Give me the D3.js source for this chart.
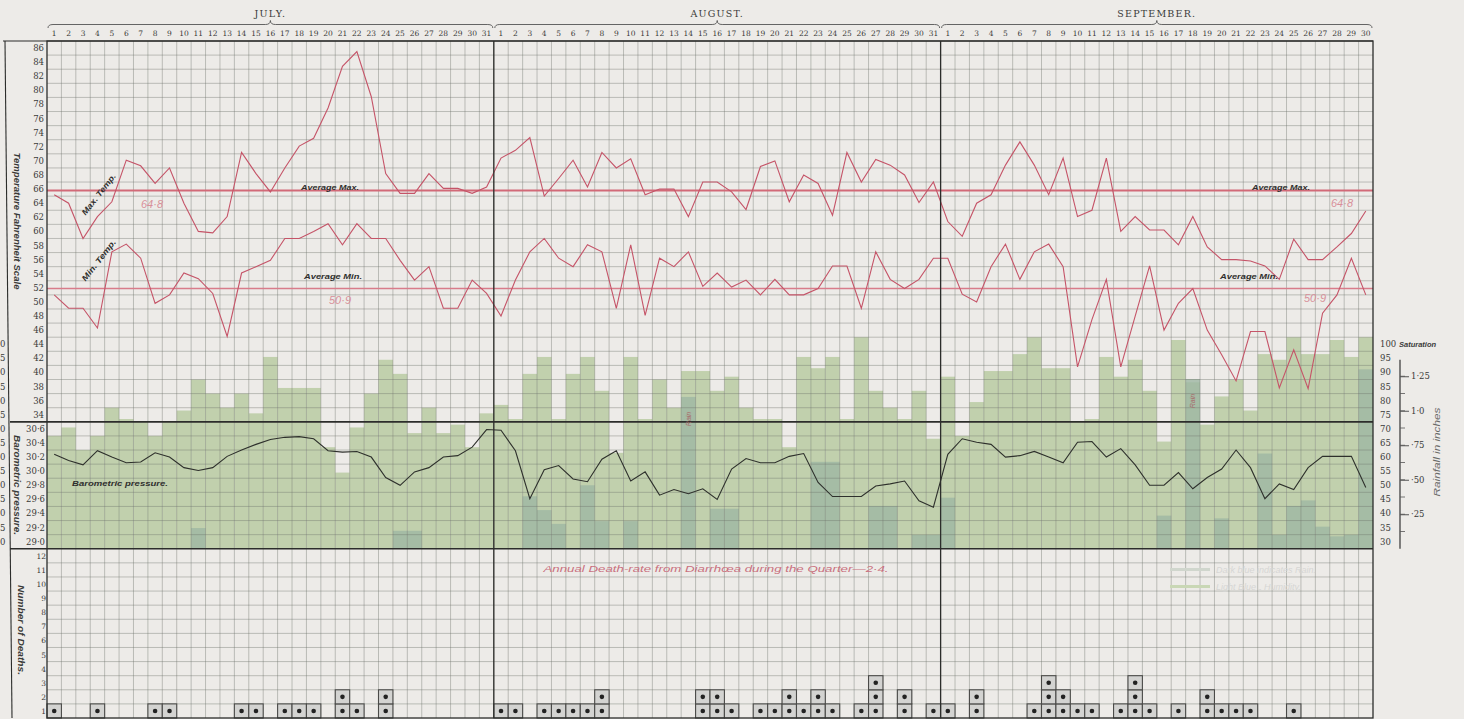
<!DOCTYPE html>
<html>
<head>
<meta charset="utf-8">
<script src="https://cdn.jsdelivr.net/npm/d3@7"></script>
<style>
  body { margin: 0; background: #eceae7; }
  svg { display: block; }
</style>
</head>
<body>
<div class="weatherChart"></div>
<script>
// Months and day columns
const monthNames = ["JULY.", "AUGUST.", "SEPTEMBER."];
const monthLengths = [31, 31, 30];

// Daily readings, 1 July - 30 September (92 days)
const maxTemp = [
  64.2, 63.0, 58.0, 61.1, 63.2, 69.1, 68.3, 65.8, 68.0, 63.0, 59.0, 58.8, 61.1, 70.2, 67.2, 64.6, 68.0, 71.1, 72.2, 76.5, 82.4, 84.5, 78.1, 67.2, 64.4, 64.4, 67.2, 65.1, 65.1, 64.4, 65.3,
  69.4, 70.5, 72.3, 64.0, 66.5, 69.1, 65.3, 70.2, 68.0, 69.3, 64.2, 65.0, 65.0, 61.1, 66.0, 66.0, 64.6, 62.1, 68.2, 69.0, 63.2, 67.0, 65.8, 61.3, 70.2, 66.0, 69.2, 68.4, 67.0, 63.1, 66.0,
  60.4, 58.3, 63.0, 64.2, 68.4, 71.7, 68.4, 64.2, 69.4, 61.1, 62.0, 69.4, 59.0, 61.1, 59.2, 59.2, 57.1, 61.1, 56.8, 55.0, 55.0, 54.8, 54.1, 52.2, 57.9, 55.0, 55.0, 56.8, 58.7, 61.9
];
const minTemp = [
  50.0, 48.1, 48.1, 45.3, 56.1, 57.2, 55.2, 48.8, 50.0, 53.1, 52.3, 50.2, 44.1, 53.1, 54.0, 54.9, 58.0, 58.0, 59.0, 60.1, 57.1, 60.1, 58.0, 58.0, 54.9, 52.1, 54.0, 48.1, 48.1, 52.1, 50.2,
  47.0, 52.1, 56.1, 58.0, 55.2, 54.0, 57.1, 56.1, 48.1, 57.1, 47.1, 55.2, 54.0, 56.1, 51.2, 53.1, 51.1, 52.1, 50.0, 52.2, 50.0, 50.0, 50.9, 54.1, 54.1, 48.1, 56.1, 52.2, 50.9, 52.2, 55.2,
  55.2, 50.1, 49.0, 54.0, 57.2, 52.2, 56.1, 57.2, 54.0, 39.8, 46.5, 52.2, 39.8, 47.0, 54.1, 45.0, 48.8, 50.9, 45.0, 41.5, 37.8, 44.8, 44.8, 36.8, 42.2, 36.7, 47.4, 50.0, 55.2, 50.0
];
const pressure = [
  30.14, 30.05, 29.99, 30.19, 30.10, 30.02, 30.03, 30.16, 30.10, 29.95, 29.91, 29.95, 30.11, 30.20, 30.28, 30.35, 30.38, 30.39, 30.36, 30.19, 30.17, 30.18, 30.10, 29.81, 29.70, 29.89, 29.95, 30.10, 30.12, 30.24, 30.49,
  30.48, 30.19, 29.51, 29.92, 29.98, 29.79, 29.75, 30.07, 30.19, 29.76, 29.89, 29.56, 29.64, 29.58, 29.65, 29.50, 29.93, 30.08, 30.02, 30.02, 30.11, 30.15, 29.74, 29.54, 29.54, 29.54, 29.69, 29.72, 29.76, 29.48, 29.39,
  30.14, 30.36, 30.31, 30.28, 30.10, 30.12, 30.18, 30.10, 30.02, 30.31, 30.32, 30.10, 30.22, 29.99, 29.70, 29.70, 29.88, 29.65, 29.81, 29.93, 30.20, 29.95, 29.51, 29.72, 29.64, 29.95, 30.11, 30.11, 30.11, 29.67
];
const saturation = [
  65, 68, 60, 65, 75, 71, 70, 65, 70, 74, 85, 80, 75, 80, 73, 93, 82, 82, 82, 61, 52, 68, 80, 92, 87, 66, 75, 66, 69, 61, 73,
  76, 71, 87, 93, 71, 87, 93, 81, 59, 93, 71, 85, 75, 88, 88, 81, 86, 75, 71, 71, 61, 93, 89, 93, 71, 100, 81, 75, 71, 81, 64,
  86, 65, 77, 88, 88, 94, 100, 89, 89, 70, 71, 93, 86, 92, 81, 63, 99, 84, 69, 79, 85, 74, 94, 92, 100, 94, 94, 99, 93, 100
];
const rainfall = [
  0, 0, 0, 0, 0, 0, 0, 0, 0, 0, 0.15, 0, 0, 0, 0, 0, 0, 0, 0, 0, 0, 0, 0, 0, 0.13, 0.13, 0, 0, 0, 0, 0,
  0, 0, 0.38, 0.28, 0.18, 0, 0.46, 0.2, 0, 0.2, 0, 0, 0, 1.1, 0, 0.29, 0.29, 0, 0, 0, 0, 0, 0.63, 0.63, 0, 0, 0.31, 0.31, 0, 0.1, 0.1,
  0.37, 0, 0, 0, 0, 0, 0, 0, 0, 0, 0, 0, 0, 0, 0, 0.24, 0, 1.23, 0, 0.22, 0, 0, 0.69, 0.1, 0.31, 0.35, 0.16, 0.09, 0.1, 1.3
];
const deaths = [
  1, 0, 0, 1, 0, 0, 0, 1, 1, 0, 0, 0, 0, 1, 1, 0, 1, 1, 1, 0, 2, 1, 0, 2, 0, 0, 0, 0, 0, 0, 0,
  1, 1, 0, 1, 1, 1, 1, 2, 0, 0, 0, 0, 0, 0, 2, 2, 1, 0, 1, 1, 2, 1, 2, 1, 0, 1, 3, 0, 2, 0, 1,
  1, 0, 2, 0, 0, 0, 1, 3, 2, 1, 1, 0, 1, 3, 1, 0, 1, 0, 2, 1, 1, 1, 0, 0, 1, 0, 0, 0, 0, 0
];

// Averages for the quarter
const avgMax = 64.8;
const avgMin = 50.9;
const rainNoteDays = [44, 79];

// Tick labels
const tempTicks = [86, 84, 82, 80, 78, 76, 74, 72, 70, 68, 66, 64, 62, 60, 58, 56, 54, 52, 50, 48, 46, 44, 42, 40, 38, 36, 34];
const baroTicks = [30.6, 30.4, 30.2, 30.0, 29.8, 29.6, 29.4, 29.2, 29.0];
const baroTickLabels = ["30·6", "30·4", "30·2", "30·0", "29·8", "29·6", "29·4", "29·2", "29·0"];
const satTicks = [100, 95, 90, 85, 80, 75, 70, 65, 60, 55, 50, 45, 40, 35, 30];
const rainTicks = [0.25, 0.5, 0.75, 1.0, 1.25];
const rainTickLabels = ["·25", "·50", "·75", "1·0", "1·25"];
const deathTicks = [12, 11, 10, 9, 8, 7, 6, 5, 4, 3, 2, 1];

const width = 1464, height = 719;
const plot = { left: 47, right: 1373, top: 41, bottom: 718 };
const rowH = (plot.bottom - plot.top) / 48;
const rowY = r => plot.top + r * rowH;

const svg = d3.select(".weatherChart")
  .append("svg")
  .attr("width", width)
  .attr("height", height)
  .style("font-family", "'DejaVu Serif', 'Liberation Serif', serif");

svg.append("rect").attr("width", width).attr("height", height).attr("fill", "#edebe8");

const days = d3.range(maxTemp.length);
const x = d3.scaleBand().domain(days).range([plot.left, plot.right]);
const cx = i => x(i) + x.bandwidth() / 2;

const yTemp = d3.scaleLinear().domain([86, 32]).range([rowY(0), rowY(27)]);
const yBaro = d3.scaleLinear().domain([30.6, 28.8]).range([rowY(27), rowY(36)]);
const ySat = d3.scaleLinear().domain([100, 25]).range([rowY(21), rowY(36)]);
const yRain = d3.scaleLinear().domain([0, 1.25]).range([rowY(36), rowY(36) - 172.5]);
const yDeath = d3.scaleLinear().domain([0, 12]).range([rowY(48), rowY(36)]);

// Saturation (humidity) bars
svg.append("g").selectAll("rect")
  .data(saturation)
  .join("rect")
  .attr("x", (d, i) => x(i))
  .attr("width", x.bandwidth())
  .attr("y", d => ySat(d))
  .attr("height", d => rowY(36) - ySat(d))
  .attr("fill", "#c1d0ad");

// Rainfall bars
svg.append("g").selectAll("rect")
  .data(rainfall)
  .join("rect")
  .attr("x", (d, i) => x(i))
  .attr("width", x.bandwidth())
  .attr("y", d => yRain(d))
  .attr("height", d => rowY(36) - yRain(d))
  .attr("fill", "#9db7a2")
  .attr("opacity", 0.8);

// Grid
const grid = svg.append("g")
  .attr("stroke", "#6d736b")
  .attr("stroke-opacity", 0.5)
  .attr("stroke-width", 0.8);
grid.selectAll(".v")
  .data(days.slice(1))
  .join("line")
  .attr("x1", d => x(d)).attr("x2", d => x(d))
  .attr("y1", plot.top).attr("y2", plot.bottom);
grid.selectAll(".h")
  .data(d3.range(1, 48).filter(r => r !== 27 && r !== 36))
  .join("line")
  .attr("x1", plot.left).attr("x2", plot.right)
  .attr("y1", d => rowY(d)).attr("y2", d => rowY(d));

// Average lines
svg.append("line")
  .attr("x1", plot.left).attr("x2", plot.right)
  .attr("y1", yTemp(avgMax)).attr("y2", yTemp(avgMax))
  .attr("stroke", "#d26a78").attr("stroke-width", 2.2);
svg.append("line")
  .attr("x1", plot.left).attr("x2", plot.right)
  .attr("y1", yTemp(avgMin)).attr("y2", yTemp(avgMin))
  .attr("stroke", "#d87c8a").attr("stroke-width", 1.4);

// Temperature lines
const tempLine = d3.line().x((d, i) => cx(i)).y(d => yTemp(d));
[maxTemp, minTemp].forEach(series => {
  svg.append("path")
    .datum(series)
    .attr("d", tempLine)
    .attr("fill", "none")
    .attr("stroke", "#c55468")
    .attr("stroke-width", 1.1);
});

// Barometric pressure
svg.append("path")
  .datum(pressure)
  .attr("d", d3.line().x((d, i) => cx(i)).y(d => yBaro(d)))
  .attr("fill", "none")
  .attr("stroke", "#2e302c")
  .attr("stroke-width", 1.1);

// Deaths, one box per death
const deathCells = [];
deaths.forEach((n, i) => d3.range(n).forEach(k => deathCells.push({ day: i, k: k })));
const cells = svg.append("g");
cells.selectAll("rect")
  .data(deathCells)
  .join("rect")
  .attr("x", d => x(d.day))
  .attr("y", d => yDeath(d.k + 1))
  .attr("width", x.bandwidth())
  .attr("height", rowH)
  .attr("fill", "#d3d3d1")
  .attr("stroke", "#4a4a48")
  .attr("stroke-width", 1.1);
cells.selectAll("circle")
  .data(deathCells)
  .join("circle")
  .attr("cx", d => cx(d.day))
  .attr("cy", d => yDeath(d.k + 0.5))
  .attr("r", 2.3)
  .attr("fill", "#222");

// Frame and dividers
const frame = svg.append("g").attr("stroke", "#2c2d2b").attr("fill", "none");
frame.append("rect")
  .attr("x", plot.left).attr("y", plot.top)
  .attr("width", plot.right - plot.left).attr("height", plot.bottom - plot.top)
  .attr("stroke-width", 1.3);
frame.append("line").attr("x1", 3).attr("x2", plot.right).attr("y1", plot.top).attr("y2", plot.top).attr("stroke-width", 1.2);
frame.append("line").attr("x1", 5).attr("x2", 12).attr("y1", plot.top).attr("y2", plot.bottom).attr("stroke-width", 1.1);
[27, 36].forEach(r => {
  frame.append("line")
    .attr("x1", 10).attr("x2", plot.right)
    .attr("y1", rowY(r)).attr("y2", rowY(r))
    .attr("stroke-width", 1.7);
});
let offset = 0;
monthLengths.forEach((n, m) => {
  if (m > 0) {
    frame.append("line")
      .attr("x1", x(offset)).attr("x2", x(offset))
      .attr("y1", plot.top).attr("y2", plot.bottom)
      .attr("stroke-width", 1.3);
  }
  offset += n;
});

// Header: month names, braces and day numbers
const header = svg.append("g").attr("fill", "#3a3a38");
offset = 0;
monthLengths.forEach((n, m) => {
  const x0 = x(offset) + 1, x1 = x(offset + n - 1) + x.bandwidth() - 1, mid = (x0 + x1) / 2;
  header.append("text")
    .attr("x", mid).attr("y", 17)
    .attr("text-anchor", "middle")
    .style("font-size", "9.5px")
    .style("letter-spacing", "1.2px")
    .text(monthNames[m]);
  header.append("path")
    .attr("d", `M${x0},28 Q${x0},24.5 ${x0 + 5},24.5 L${mid - 5},24.5 Q${mid},24.5 ${mid},20.5 Q${mid},24.5 ${mid + 5},24.5 L${x1 - 5},24.5 Q${x1},24.5 ${x1},28`)
    .attr("fill", "none").attr("stroke", "#555").attr("stroke-width", 0.9);
  header.selectAll(null)
    .data(d3.range(1, n + 1))
    .join("text")
    .attr("x", d => cx(offset + d - 1))
    .attr("y", 36)
    .attr("text-anchor", "middle")
    .style("font-size", "7.5px")
    .text(d => d);
  offset += n;
});

// Left scales
const leftAxis = svg.append("g").attr("fill", "#3a3a38").style("font-size", "8.5px").attr("text-anchor", "end");
leftAxis.selectAll(".t")
  .data(tempTicks)
  .join("text")
  .attr("x", 44).attr("y", d => yTemp(d) + rowH / 2 + 3)
  .text(d => d);
leftAxis.selectAll(".b")
  .data(baroTicks)
  .join("text")
  .attr("x", 45).attr("y", d => yBaro(d) + rowH / 2 + 3)
  .text((d, i) => baroTickLabels[i]);
leftAxis.selectAll(".d")
  .data(deathTicks)
  .join("text")
  .attr("x", 46).attr("y", d => yDeath(d - 0.5) + 3)
  .style("font-size", "7.5px")
  .text(d => d);
// the saturation scale repeated at the page's left edge only shows its last digit
leftAxis.selectAll(".s")
  .data(satTicks)
  .join("text")
  .attr("x", 5.5).attr("y", d => ySat(d) + rowH / 2 + 3)
  .text(d => String(d).slice(-1));

// Right scales: saturation and rainfall
const rightAxis = svg.append("g").attr("fill", "#3a3a38").style("font-size", "8.5px");
rightAxis.selectAll(".s")
  .data(satTicks)
  .join("text")
  .attr("x", 1380).attr("y", d => ySat(d) + rowH / 2 + 3)
  .text(d => d);
rightAxis.append("text")
  .attr("x", 1399).attr("y", ySat(100) + rowH / 2 + 3)
  .style("font-family", "'Liberation Sans', sans-serif")
  .style("font-style", "italic").style("font-weight", "bold").style("font-size", "7.5px")
  .text("Saturation");

const rainAxis = svg.append("g").attr("transform", "translate(1400,0)");
rainAxis.append("line")
  .attr("y1", yRain(1.37)).attr("y2", yRain(0))
  .attr("stroke", "#333").attr("stroke-width", 1.2);
rainAxis.selectAll(".minor")
  .data(d3.range(0.125, 1.37, 0.125))
  .join("line")
  .attr("x1", 0).attr("x2", 5)
  .attr("y1", d => yRain(d)).attr("y2", d => yRain(d))
  .attr("stroke", "#555").attr("stroke-width", 0.8);
rainAxis.call(d3.axisRight(yRain).tickValues(rainTicks).tickSize(9).tickPadding(2)
  .tickFormat((d, i) => rainTickLabels[i]));
rainAxis.select(".domain").remove();
rainAxis.selectAll(".tick line").attr("stroke", "#555");
rainAxis.selectAll(".tick text").attr("fill", "#3a3a38").style("font-size", "8.5px")
  .style("font-family", "'DejaVu Serif', serif");

// Axis titles
const italicSans = "'Liberation Sans', Arial, sans-serif";
function vLabel(text, xPos, yPos, len, angle, weight, color) {
  svg.append("text")
    .attr("transform", `translate(${xPos},${yPos}) rotate(${angle})`)
    .attr("text-anchor", "middle")
    .attr("textLength", len).attr("lengthAdjust", "spacingAndGlyphs")
    .style("font-family", italicSans).style("font-style", "italic").style("font-weight", weight || "bold")
    .style("font-size", "8.5px").attr("fill", color || "#3a3a38")
    .text(text);
}
vLabel("Temperature   Fahrenheit Scale", 14, 221, 137, 90);
vLabel("Barometric pressure.", 14, 485, 100, 90);
vLabel("Number of Deaths.", 18, 630, 90, 90);
vLabel("Rainfall in inches", 1440, 452, 89, -90, "normal", "#6a6a68");

// Annotations on the temperature panel
const note = (text, xPos, yPos, len, color, size, angle) => {
  svg.append("text")
    .attr("transform", `translate(${xPos},${yPos}) rotate(${angle || 0})`)
    .attr("text-anchor", "middle")
    .attr("textLength", len).attr("lengthAdjust", "spacingAndGlyphs")
    .style("font-family", italicSans).style("font-style", "italic").style("font-weight", "bold")
    .style("font-size", size + "px").attr("fill", color)
    .text(text);
};
note("Max. Temp.", 101, 196, 50, "#2f2f2d", 8, -52);
note("Min. Temp.", 101, 262, 50, "#2f2f2d", 8, -52);
note("Average Max.", 330, yTemp(avgMax) - 1, 58, "#2f2f2d", 7.5);
note("Average Min.", 333, yTemp(avgMin) - 10, 58, "#2f2f2d", 7.5);
note("Average Max.", 1281, yTemp(avgMax) - 1, 58, "#2f2f2d", 7.5);
note("Average Min.", 1249, yTemp(avgMin) - 10, 58, "#2f2f2d", 7.5);

const lightRed = "#d8909a";
[[152, 208], [1342, 207]].forEach(p => {
  svg.append("text").attr("x", p[0]).attr("y", p[1]).attr("text-anchor", "middle")
    .style("font-family", italicSans).style("font-style", "italic").style("font-size", "11px")
    .attr("fill", lightRed).text("64·8");
});
[[340, 304], [1315, 302]].forEach(p => {
  svg.append("text").attr("x", p[0]).attr("y", p[1]).attr("text-anchor", "middle")
    .style("font-family", italicSans).style("font-style", "italic").style("font-size", "11px")
    .attr("fill", lightRed).text("50·9");
});

note("Barometric pressure.", 120, 486, 96, "#2f2f2d", 7.5);

// "Rain" notes inside the columns with heavy rainfall
rainNoteDays.forEach(i => {
  svg.append("text")
    .attr("transform", `translate(${cx(i) + 2.5},${yRain(rainfall[i]) + 22}) rotate(-90)`)
    .attr("text-anchor", "middle")
    .style("font-family", italicSans).style("font-style", "italic").style("font-size", "7px")
    .attr("fill", "#a86a6a").text("Rain");
});

// Death-rate note
svg.append("text")
  .attr("x", 716).attr("y", 572).attr("text-anchor", "middle")
  .attr("textLength", 345).attr("lengthAdjust", "spacingAndGlyphs")
  .style("font-family", italicSans).style("font-style", "italic").style("font-size", "9.5px")
  .attr("fill", "#c9707e")
  .text("Annual Death-rate from Diarrhœa during the Quarter—2·4.");

// Faint legend
const legend = svg.append("g").attr("transform", "translate(1170,570)");
legend.selectAll("rect")
  .data(["#d0d6cd", "#c9d7b5"])
  .join("rect")
  .attr("x", 0).attr("y", (d, i) => i * 17 - 2)
  .attr("width", 40).attr("height", 3)
  .attr("fill", d => d);
legend.selectAll("text")
  .data(["Dark blue indicates Rain.", "Light Blue      „       Humidity."])
  .join("text")
  .attr("x", 46).attr("y", (d, i) => i * 17 + 3)
  .style("font-family", italicSans).style("font-style", "italic").style("font-size", "9px")
  .attr("fill", "#d6d6d4")
  .text(d => d);
</script>
</body>
</html>
